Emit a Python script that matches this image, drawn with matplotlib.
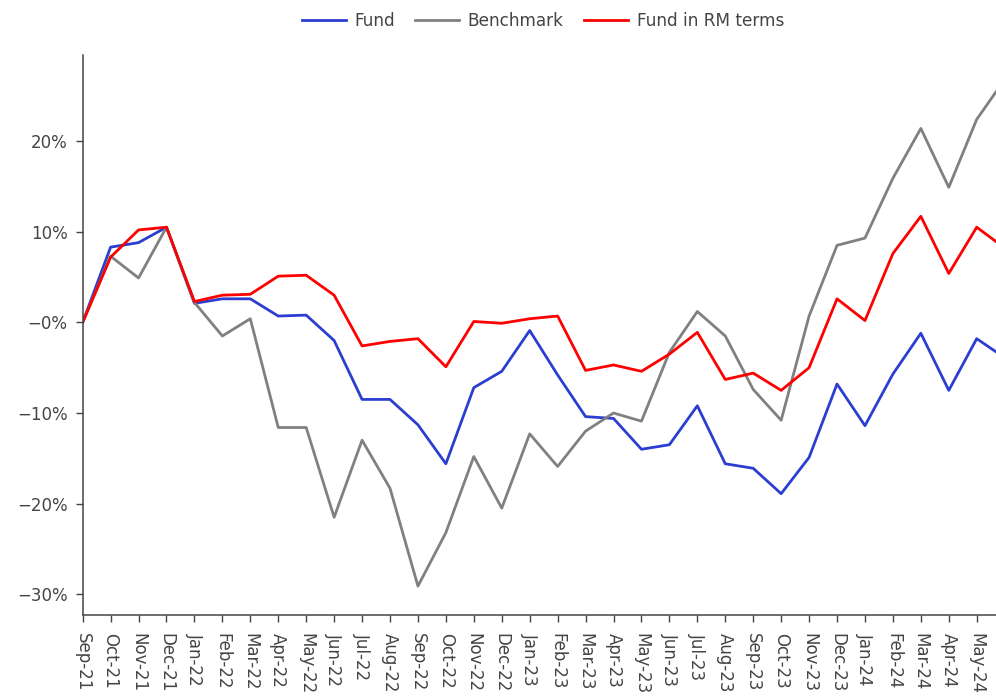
import numpy as np
import matplotlib.pyplot as plt
from matplotlib.ticker import FuncFormatter

months = ['Sep-21', 'Oct-21', 'Nov-21', 'Dec-21', 'Jan-22', 'Feb-22', 'Mar-22', 'Apr-22',
          'May-22', 'Jun-22', 'Jul-22', 'Aug-22', 'Sep-22', 'Oct-22', 'Nov-22', 'Dec-22',
          'Jan-23', 'Feb-23', 'Mar-23', 'Apr-23', 'May-23', 'Jun-23', 'Jul-23', 'Aug-23',
          'Sep-23', 'Oct-23', 'Nov-23', 'Dec-23', 'Jan-24', 'Feb-24', 'Mar-24', 'Apr-24',
          'May-24', 'Jun-24']

fund = [0.0, 8.3, 8.8, 10.5, 2.1, 2.6, 2.6, 0.7, 0.8, -2.0, -8.5, -8.5, -11.3, -15.6,
        -7.2, -5.4, -0.9, -5.8, -10.4, -10.6, -14.0, -13.5, -9.2, -15.6, -16.1, -18.9,
        -14.9, -6.8, -11.4, -5.7, -1.2, -7.5, -1.8, -3.9]

benchmark = [0.0, 7.3, 4.9, 10.5, 2.2, -1.5, 0.4, -11.6, -11.6, -21.5, -13.0, -18.3,
             -29.1, -23.2, -14.8, -20.5, -12.3, -15.9, -12.0, -10.0, -10.9, -3.3, 1.2,
             -1.5, -7.4, -10.8, 0.7, 8.5, 9.3, 15.9, 21.4, 14.9, 22.4, 26.8]

fund_rm = [0.0, 7.2, 10.2, 10.5, 2.3, 3.0, 3.1, 5.1, 5.2, 3.0, -2.6, -2.1, -1.8, -4.9,
           0.1, -0.1, 0.4, 0.7, -5.3, -4.7, -5.4, -3.5, -1.1, -6.3, -5.6, -7.5, -5.0,
           2.6, 0.2, 7.6, 11.7, 5.4, 10.5, 8.2]

txt = '#444444'
plt.rcParams['font.family'] = ['DejaVu Sans']

fig = plt.figure(figsize=(9.96, 6.99), dpi=100)
ax = fig.add_axes([0.083, 0.12, 0.917, 0.8013])

x = np.arange(len(months))
l1, = ax.plot(x, fund, color='#2b3ed0', lw=2, label='Fund')
l2, = ax.plot(x, benchmark, color='#808080', lw=2, label='Benchmark')
l3, = ax.plot(x, fund_rm, color='#ff0000', lw=2, label='Fund in RM terms')

# the last month sits just past the right edge, like the reference
ax.set_xlim(0, 32.69)
ax.set_ylim(-32.3, 29.5)
ax.set_xticks(x[:-1])
ax.set_xticklabels(months[:-1], rotation=-90, va='top', ha='center')
ax.set_yticks([-30, -20, -10, 0, 10, 20])
ax.yaxis.set_major_formatter(FuncFormatter(
    lambda v, p: ('\u2212' if v <= 0 else '') + '%d%%' % abs(v)))

for s in ['top', 'right']:
    ax.spines[s].set_visible(False)
for s in ['left', 'bottom']:
    ax.spines[s].set_color(txt)
    ax.spines[s].set_linewidth(1.1)
ax.tick_params(colors=txt, labelcolor=txt, labelsize=12, length=5, width=1, pad=6)
ax.tick_params(axis='x', pad=8)

fig.legend(handles=[l1, l2, l3], loc='center', bbox_to_anchor=(0.545, 0.97), ncol=3,
           frameon=False, fontsize=12.2, labelcolor=txt, handlelength=2.6,
           handletextpad=0.5, columnspacing=1.2)

fig.savefig('out.png', dpi=100)
